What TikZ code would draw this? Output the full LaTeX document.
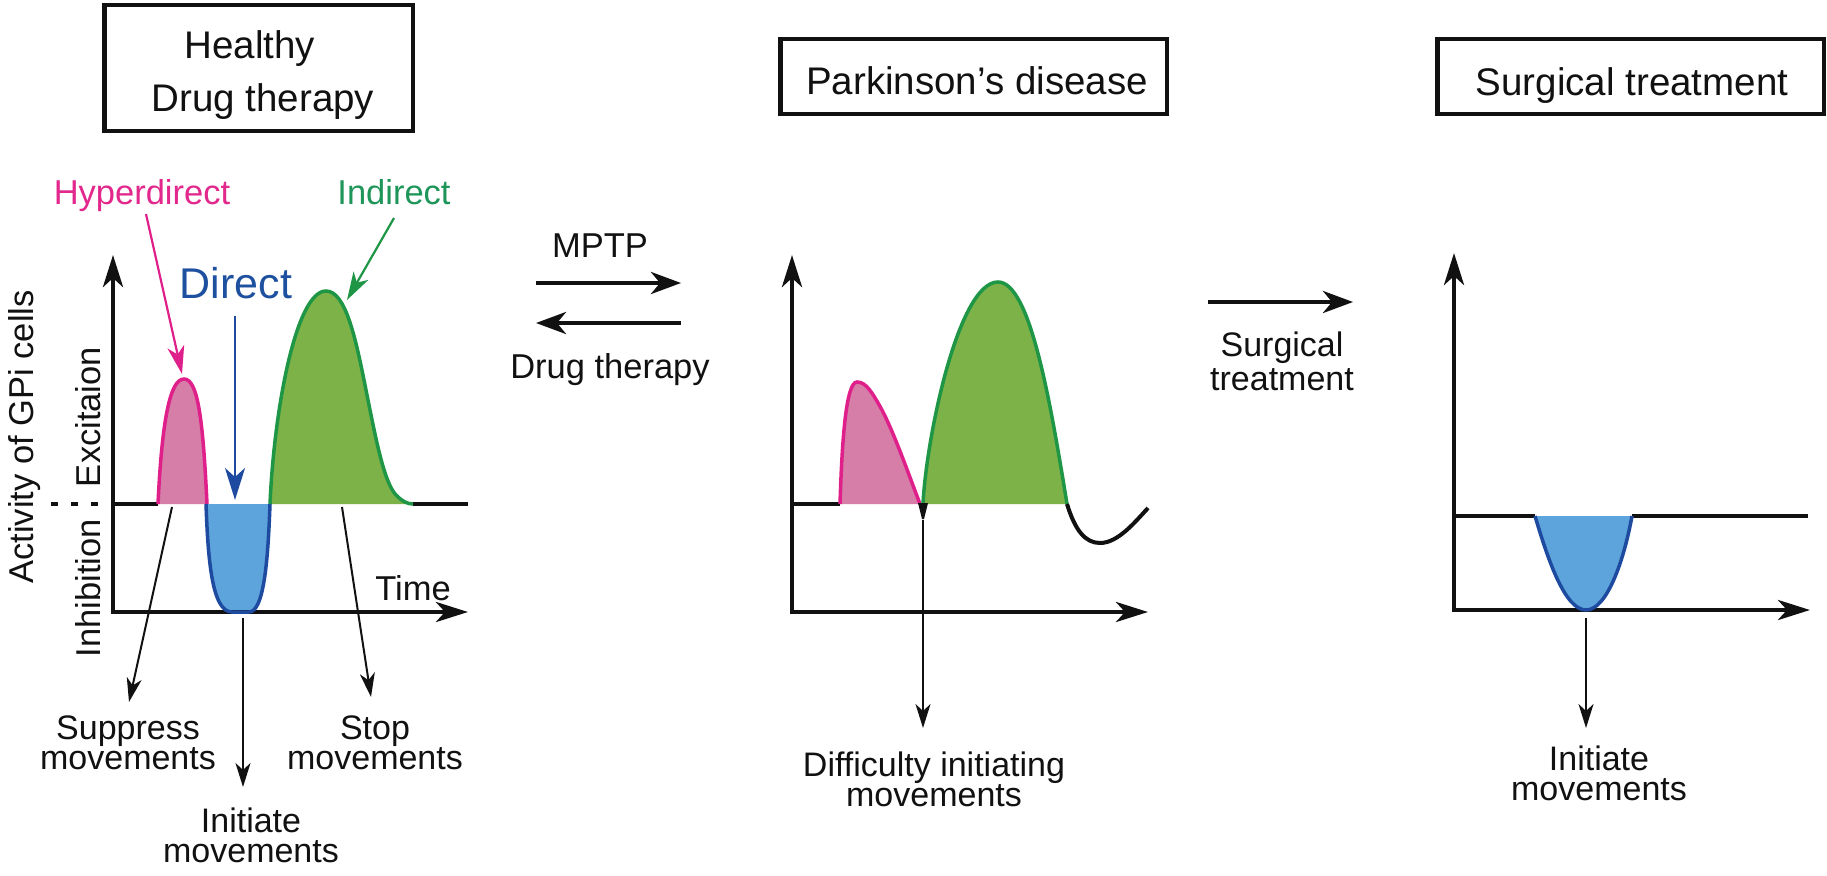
\documentclass[tikz,border=0pt]{standalone}
\usepackage{fontspec}
\setmainfont{Liberation Sans}
\usetikzlibrary{arrows.meta}
\definecolor{pinkfill}{HTML}{D67DA8}
\definecolor{pinkline}{HTML}{E0208A}
\definecolor{greenfill}{HTML}{7DB248}
\definecolor{greenline}{HTML}{1E9646}
\definecolor{bluefill}{HTML}{5CA4DB}
\definecolor{blueline}{HTML}{1E4BA0}
\definecolor{hypertext}{HTML}{E2288C}
\definecolor{indtext}{HTML}{1E965A}
\definecolor{dirtext}{HTML}{1E50A0}
\definecolor{ink}{HTML}{111111}
\newcommand\tightlines{\lineskiplimit=-100pt\relax\lineskip=0pt\relax}
\newcommand\lblfont{\fontsize{34}{29.5}\selectfont\tightlines}
\newcommand\surgfont{\fontsize{34}{34}\selectfont\tightlines}
\begin{document}
\begin{tikzpicture}[x=1pt,y=-1pt,
  every node/.style={inner sep=0pt, outer sep=0pt, text=ink},
  titlebox/.style={draw=ink, line width=4.5pt},
  titletext/.style={font=\fontsize{38.5}{46}\selectfont, anchor=base},
  plain/.style={font=\fontsize{34.5}{40}\selectfont, anchor=base},
  lbl/.style={font=\lblfont, align=center, anchor=north},
  axes/.style={draw=ink, line width=4.5pt, line join=miter,
    {Stealth[length=32pt,width=20pt,inset=9pt]}-{Stealth[length=32pt,width=20pt,inset=9pt]}},
  levelline/.style={draw=ink, line width=4pt},
  outarrow/.style={draw=ink, line width=2pt, -{Stealth[length=24pt,width=15pt,inset=7pt]}},
  midarrow/.style={draw=ink, line width=4.5pt, -{Stealth[length=30pt,width=22pt,inset=9pt]}},
  pathlabel/.style={line width=2.2pt, -{Stealth[length=28pt,width=17pt,inset=8pt]}},
  curve/.style={line width=3.5pt}
]
\useasboundingbox (0,0) rectangle (1827,875);
\fill[white] (0,0) rectangle (1827,875);

% ---------- title boxes ----------
\node[titlebox, minimum width=308.5pt, minimum height=125.5pt] (box1) at (258.5,68) {};
\node[titlebox, minimum width=386.5pt, minimum height=74.5pt] (box2) at (973.5,76.5) {};
\node[titlebox, minimum width=386.5pt, minimum height=74.5pt] (box3) at (1630.5,76.5) {};
\node[titletext] (t1a) at (250,59) {Healthy};
\node[titletext] (t1b) at (263,111) {Drug therapy};
\node[titletext] (t2) at (977,94) {Parkinson's disease};
\node[titletext] (t3) at (1632,95) {Surgical treatment};

% ---------- graph 1 : fills ----------
\fill[pinkfill] (158,504) .. controls (162,420) and (170,379) .. (184,379) .. controls (198,379) and (203,420) .. (207,504) -- cycle;
\fill[bluefill] (206,504) .. controls (208,560) and (212,612) .. (232,612) -- (249,612) .. controls (264,612) and (268,560) .. (270,504) -- cycle;
\fill[greenfill] (270,504) .. controls (274,410) and (296,291) .. (326,291) .. controls (346,291) and (356,340) .. (366,390) .. controls (376,440) and (384,482) .. (396,495) .. controls (403,502) and (408,504) .. (413,504) -- cycle;

% graph 1 axes and level
\coordinate (g1top) at (113,255);
\coordinate (g1o) at (113,612);
\coordinate (g1end) at (468,612);
\draw[axes] (g1top) -- (g1o) -- (g1end);
\draw[levelline] (113,504) -- (158,504);
\draw[levelline] (413,504) -- (468,504);
\draw[ink, line width=4pt, dash pattern=on 7pt off 13pt] (51,504) -- (108,504);

% graph 1 outlines
\draw[pinkline, curve] (158,504) .. controls (162,420) and (170,379) .. (184,379) .. controls (198,379) and (203,420) .. (207,504);
\draw[blueline, curve] (206,504) .. controls (208,560) and (212,612) .. (232,612) -- (249,612) .. controls (264,612) and (268,560) .. (270,504);
\draw[greenline, curve] (270,504) .. controls (274,410) and (296,291) .. (326,291) .. controls (346,291) and (356,340) .. (366,390) .. controls (376,440) and (384,482) .. (396,495) .. controls (403,502) and (408,504) .. (413,504);

% graph 1 labels
\node[plain, text=hypertext] (hyp) at (142,204) {Hyperdirect};
\node[plain, text=indtext] (ind) at (394,204) {Indirect};
\node[font=\fontsize{43}{50}\selectfont, anchor=base, text=dirtext] (dir) at (236,298) {Direct};
\node[plain] (time) at (413,600) {Time};
\node[plain, rotate=90] (ylab) at (33,437) {Activity of GPi cells};
\node[plain, rotate=90] (exc) at (100,417) {Excitaion};
\node[plain, rotate=90] (inh) at (100,588) {Inhibition};

\coordinate (hypS) at (146,214);
\coordinate (hypP) at (182,374);
\coordinate (indS) at (394,218);
\coordinate (indP) at (347,300);
\coordinate (dirS) at (235,316);
\coordinate (dirP) at (235,500);
\draw[pathlabel, pinkline] (hypS) -- (hypP);
\draw[pathlabel, greenline] (indS) -- (indP);
\draw[blueline, line width=2.2pt, -{Stealth[length=32pt,width=20pt,inset=9pt]}] (dirS) -- (dirP);

\node[lbl] (supp) at (128,716) {Suppress\\movements};
\node[lbl] (stop) at (375,716) {Stop\\movements};
\node[lbl] (init1) at (251,808) {Initiate\\movements};
\coordinate (suppS) at (172,507);
\coordinate (suppE) at (129,702);
\coordinate (initS) at (243,618);
\coordinate (initE) at (243,787);
\coordinate (stopS) at (342,507);
\coordinate (stopE) at (371,697);
\draw[outarrow] (suppS) -- (suppE);
\draw[outarrow] (initS) -- (initE);
\draw[outarrow] (stopS) -- (stopE);

% ---------- middle arrows ----------
\node[plain] (mptp) at (600,257) {MPTP};
\node[plain] (drug) at (610,378) {Drug therapy};
\coordinate (mA) at (536,283);
\coordinate (mB) at (681,283);
\coordinate (dA) at (681,323);
\coordinate (dB) at (536,323);
\draw[midarrow] (mA) -- (mB);
\draw[midarrow] (dA) -- (dB);

\node[lbl, font=\surgfont] (surg) at (1282,332) {Surgical\\treatment};
\coordinate (sA) at (1208,302);
\coordinate (sB) at (1353,302);
\draw[midarrow] (sA) -- (sB);

% ---------- graph 2 ----------
\fill[pinkfill] (840,504) .. controls (842,440) and (846,382) .. (857,382) .. controls (866,382) and (872,392) .. (882,410) .. controls (895,435) and (910,478) .. (920,504) -- cycle;
\fill[greenfill] (923,504) .. controls (926,440) and (958,282) .. (998,282) .. controls (1030,282) and (1050,400) .. (1067,504) -- cycle;
\coordinate (g2top) at (792,255);
\coordinate (g2o) at (792,612);
\coordinate (g2end) at (1148,612);
\draw[axes] (g2top) -- (g2o) -- (g2end);
\draw[levelline] (792,504) -- (840,504);
\draw[pinkline, curve] (840,504) .. controls (842,440) and (846,382) .. (857,382) .. controls (866,382) and (872,392) .. (882,410) .. controls (895,435) and (910,478) .. (920,504);
\draw[greenline, curve] (923,504) .. controls (926,440) and (958,282) .. (998,282) .. controls (1030,282) and (1050,400) .. (1067,504);
\draw[ink, line width=4pt] (1067,504) .. controls (1075,530) and (1085,543) .. (1100,543) .. controls (1118,543) and (1135,522) .. (1148,508);
\fill[ink] (918,503) -- (928,503) -- (924,519) -- (922,519) -- cycle;
\node[lbl] (diff) at (934,752) {Difficulty initiating\\movements};
\coordinate (diffS) at (923,520);
\coordinate (diffE) at (923,728);
\draw[outarrow] (diffS) -- (diffE);

% ---------- graph 3 ----------
\fill[bluefill] (1535,516) .. controls (1548,560) and (1565,610) .. (1586,610) .. controls (1607,610) and (1624,560) .. (1632,516) -- cycle;
\coordinate (g3top) at (1454,253);
\coordinate (g3o) at (1454,610);
\coordinate (g3end) at (1810,610);
\draw[axes] (g3top) -- (g3o) -- (g3end);
\draw[levelline] (1454,516) -- (1535,516);
\draw[levelline] (1632,516) -- (1808,516);
\draw[blueline, curve] (1535,516) .. controls (1548,560) and (1565,610) .. (1586,610) .. controls (1607,610) and (1624,560) .. (1632,516);
\node[lbl] (init3) at (1599,746) {Initiate\\movements};
\coordinate (i3S) at (1586,618);
\coordinate (i3E) at (1586,728);
\draw[outarrow] (i3S) -- (i3E);
\end{tikzpicture}
\end{document}
